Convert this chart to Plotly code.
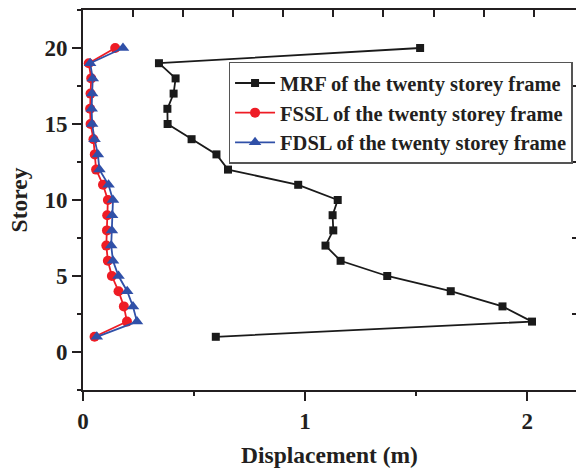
import plotly.graph_objects as go

storeys = list(range(1, 21))

mrf = [0.598, 2.022, 1.889, 1.656, 1.370, 1.160, 1.092, 1.127, 1.124, 1.147,
       0.969, 0.653, 0.601, 0.489, 0.381, 0.380, 0.408, 0.417, 0.342, 1.518]
fssl = [0.052, 0.198, 0.184, 0.160, 0.130, 0.112, 0.105, 0.108, 0.109, 0.112,
        0.090, 0.059, 0.053, 0.047, 0.034, 0.032, 0.034, 0.037, 0.026, 0.145]
fdsl = [0.062, 0.243, 0.225, 0.199, 0.160, 0.135, 0.127, 0.130, 0.131, 0.135,
        0.115, 0.074, 0.067, 0.052, 0.041, 0.039, 0.041, 0.044, 0.032, 0.180]

names = ["MRF of the twenty storey frame",
         "FSSL of the twenty storey frame",
         "FDSL of the twenty storey frame"]

FONT = "Liberation Serif"
AX = "#231f20"
TXT = "#231f20"

fig = go.Figure()
fig.add_trace(go.Scatter(x=mrf, y=storeys, mode="lines+markers", name=names[0],
                         line=dict(color="#1a1a1a", width=1.8),
                         marker=dict(symbol="square", size=8, color="#1a1a1a")))
fig.add_trace(go.Scatter(x=fssl, y=storeys, mode="lines+markers", name=names[1],
                         line=dict(color="#ee1c25", width=1.8),
                         marker=dict(symbol="circle", size=10, color="#ee1c25")))
fig.add_trace(go.Scatter(x=fdsl, y=storeys, mode="lines+markers", name=names[2],
                         line=dict(color="#3050a8", width=1.8),
                         marker=dict(symbol="triangle-up", size=11, color="#3050a8")))
# empty helper traces so the extra tick-only axes are drawn
fig.add_trace(go.Scatter(x=[None], y=[None], xaxis="x2", yaxis="y2",
                         showlegend=False, hoverinfo="skip"))
fig.add_trace(go.Scatter(x=[None], y=[None], xaxis="x3", yaxis="y3",
                         showlegend=False, hoverinfo="skip"))

xr = [0, 2.22]
yr = [-2.5, 22.5]

tick_only = dict(showticklabels=False, showgrid=False, zeroline=False, showline=False,
                 tickwidth=2, tickcolor=AX)

fig.update_layout(
    width=576, height=468,
    margin=dict(l=83, r=0, t=10, b=78),
    paper_bgcolor="white", plot_bgcolor="white",
    font=dict(family=FONT, color=TXT, weight="bold"),
    showlegend=True,
    legend=dict(x=0.993, y=0.864, xanchor="right", yanchor="top",
                bordercolor="#555555", borderwidth=1.5, bgcolor="white",
                font=dict(family=FONT, size=20.5, color=TXT, weight="bold"),
                tracegroupgap=0, itemwidth=40),
    xaxis=dict(range=xr, dtick=1, tick0=0, showgrid=False, zeroline=False,
               showline=True, linecolor=AX, linewidth=2,
               ticks="outside", ticklen=9, tickwidth=2, tickcolor=AX,
               tickfont=dict(family=FONT, size=23, color=TXT, weight="bold"),
               title=dict(text="Displacement (m)", standoff=16,
                          font=dict(family=FONT, size=23.5, color=TXT, weight="bold"))),
    yaxis=dict(range=yr, dtick=5, tick0=0, showgrid=False, zeroline=False,
               showline=True, linecolor=AX, linewidth=2,
               ticks="outside", ticklen=9, tickwidth=2, tickcolor=AX,
               tickfont=dict(family=FONT, size=23, color=TXT, weight="bold"),
               title=dict(text="Storey", standoff=10,
                          font=dict(family=FONT, size=23.5, color=TXT, weight="bold"))),
    # top axis: line with inward ticks
    xaxis2=dict(range=xr, overlaying="x", side="top", anchor="y",
                tick0=0, dtick=0.2255, showticklabels=False, showgrid=False,
                zeroline=False, showline=True, linecolor=AX, linewidth=2,
                ticks="inside", ticklen=7, tickwidth=2, tickcolor=AX),
    # right side: short inward ticks only
    yaxis2=dict(range=yr, overlaying="y", side="right", anchor="x",
                tick0=2.5, dtick=5, ticks="inside", ticklen=4, **tick_only),
    # minor ticks on bottom and left
    xaxis3=dict(range=xr, overlaying="x", side="bottom", anchor="y",
                tick0=0.5, dtick=1, ticks="outside", ticklen=5, **tick_only),
    yaxis3=dict(range=yr, overlaying="y", side="left", anchor="x",
                tick0=2.5, dtick=5, ticks="outside", ticklen=5, **tick_only),
)

fig.write_html("out.html")
